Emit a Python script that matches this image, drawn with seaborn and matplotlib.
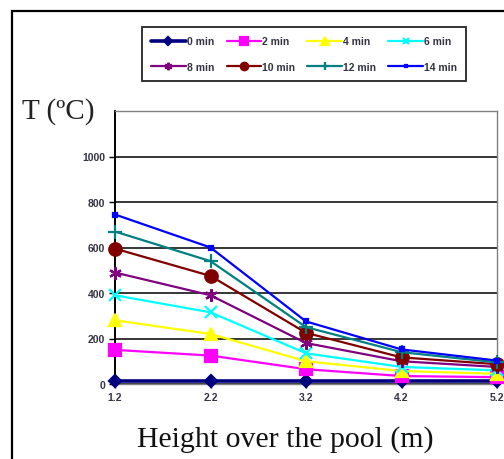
import matplotlib
matplotlib.use("Agg")
import matplotlib.pyplot as plt
import seaborn as sns
import pandas as pd
from matplotlib.patches import Rectangle

# Height above the pool (m)
heights = [1.2, 2.2, 3.2, 4.2, 5.2]

# Temperature (ºC) at each height, one series per elapsed time
t0 = [15, 15, 15, 15, 15]
t2 = [150, 125, 65, 35, 30]
t4 = [280, 220, 100, 57, 45]
t6 = [390, 315, 135, 75, 60]
t8 = [490, 390, 180, 100, 75]
t10 = [595, 475, 225, 117, 87]
t12 = [670, 540, 250, 140, 95]
t14 = [745, 600, 275, 152, 103]

series_labels = ["0 min", "2 min", "4 min", "6 min", "8 min", "10 min", "12 min", "14 min"]
series_values = [t0, t2, t4, t6, t8, t10, t12, t14]

y_ticks = [0, 200, 400, 600, 800, 1000]
x_tick_labels = ["1.2", "2.2", "3.2", "4.2", "5.2"]

colors = ["#000080", "#FF00FF", "#FFFF00", "#00FFFF", "#800080", "#800000", "#008080", "#0000FF"]
markers = ["D", "s", "^", "x", (6, 2, 0), "o", "+", "s"]
msizes = [6.5, 8.5, 9, 8, 9, 9, 10, 3.5]
lwidths = [2.6, 1.6, 1.6, 1.6, 1.6, 1.6, 1.6, 1.6]

rows = []
for lab, vals in zip(series_labels, series_values):
    for h, v in zip(heights, vals):
        rows.append({"height": h, "temp": v, "time": lab})
df = pd.DataFrame(rows)

sns.set_theme(style="white")
plt.rcParams["font.family"] = ["Liberation Sans", "DejaVu Sans"]

fig = plt.figure(figsize=(5.04, 4.6), dpi=100)
ax = fig.add_axes([115 / 504, 75 / 460, (497 - 115) / 504, (385 - 112) / 460])

for lab, c, m, ms, lw in zip(series_labels, colors, markers, msizes, lwidths):
    sub = df[df["time"] == lab]
    sns.lineplot(data=sub, x="height", y="temp", ax=ax, color=c, marker=m,
                 markersize=ms, linewidth=lw, markeredgecolor=c,
                 markeredgewidth=1.6, label=lab, clip_on=False, zorder=3)

ax.set_xlim(1.2, 5.2)
ax.set_ylim(0, 1200)
ax.set_xticks(heights)
ax.set_xticklabels(x_tick_labels)
ax.set_yticks(y_ticks)
ax.set_yticklabels([str(v) for v in y_ticks])
ax.tick_params(axis="both", labelsize=7.5, colors="black", length=4, width=1,
               direction="out", pad=3)
ax.tick_params(axis="y", left=True, length=4)
ax.tick_params(axis="x", bottom=True, length=3)
for lbl in ax.get_xticklabels() + ax.get_yticklabels():
    lbl.set_fontweight("bold")
    lbl.set_color("#333344")

for v in y_ticks:
    ax.axhline(v, color="black", linewidth=1.1, zorder=1)

for side in ["top", "right", "bottom"]:
    ax.spines[side].set_color("#808080")
    ax.spines[side].set_linewidth(1.0)
ax.spines["left"].set_color("black")
ax.spines["left"].set_linewidth(1.4)

ax.set_xlabel("")
ax.set_ylabel("")

fig.text(22 / 504, 1 - 112 / 460, "T (ºC)", fontsize=21, family="Liberation Serif",
         color="#222222", va="center", ha="left")
fig.text(137 / 504, 1 - 440 / 460, "Height over the pool (m)", fontsize=21.5,
         family="Liberation Serif", color="#111111", va="center", ha="left")

# Legend: rows are filled left-to-right, so reorder for matplotlib's column fill
handles, labels = ax.get_legend_handles_labels()
ax.get_legend().remove()
order = [0, 4, 1, 5, 2, 6, 3, 7]
leg = fig.legend([handles[i] for i in order], [labels[i] for i in order],
                 ncol=4, loc="center", bbox_to_anchor=(304 / 504, 1 - 55 / 460),
                 fontsize=7.5, frameon=True, fancybox=False, shadow=False,
                 handlelength=3.3, handletextpad=0.1, columnspacing=1.2,
                 borderpad=0.85, labelspacing=1.5, borderaxespad=0,
                 markerscale=0.6)
leg.get_frame().set_edgecolor("black")
leg.get_frame().set_linewidth(1.4)
for t in leg.get_texts():
    t.set_fontweight("bold")
    t.set_color("#333344")

# Outer chart frame
fig.patches.append(Rectangle((12 / 504, -0.1), 1.2, 1 - 12 / 460 + 0.1,
                             transform=fig.transFigure, fill=False,
                             edgecolor="black", linewidth=1.6))

fig.savefig("out.png", dpi=100)
